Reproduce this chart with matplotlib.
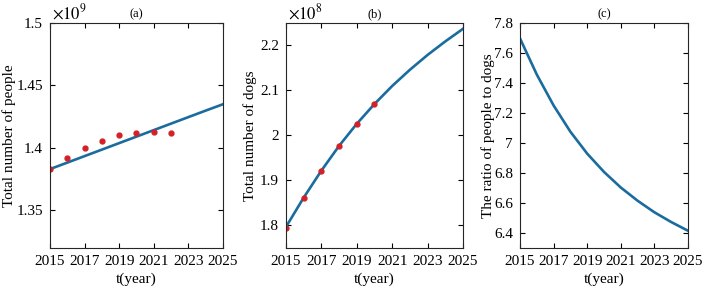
import matplotlib
matplotlib.use('Agg')
import matplotlib.pyplot as plt
from matplotlib.ticker import FuncFormatter

matplotlib.rcParams['font.family'] = ['Liberation Serif', 'DejaVu Serif']
matplotlib.rcParams['mathtext.fontset'] = 'stix'
matplotlib.rcParams['font.size'] = 11

# observed data
obs_years_people = [2015, 2016, 2017, 2018, 2019, 2020, 2021, 2022]
people_obs = [1.3831, 1.3923, 1.4000, 1.4053, 1.4101, 1.4119, 1.4127, 1.4116]  # x 1e9
obs_years_dogs = [2015, 2016, 2017, 2018, 2019, 2020]
dogs_obs = [1.795, 1.861, 1.922, 1.976, 2.025, 2.070]  # x 1e8

# model curves
years = [2015, 2016, 2017, 2018, 2019, 2020, 2021, 2022, 2023, 2024, 2025]
people_fit = [1.3831, 1.3883, 1.3935, 1.3987, 1.4039, 1.4091, 1.4143, 1.4195, 1.4247, 1.4299, 1.4350]
dogs_fit = [1.797, 1.862, 1.922, 1.977, 2.026, 2.070, 2.110, 2.146, 2.179, 2.209, 2.237]
ratio_fit = [7.697, 7.456, 7.250, 7.075, 6.929, 6.807, 6.703, 6.615, 6.538, 6.473, 6.415]

xticks = [2015, 2017, 2019, 2021, 2023, 2025]
line_color = '#1A6C9E'
dot_color = '#D42027'

fig = plt.figure(figsize=(7.05, 2.93), dpi=100)
ax1 = fig.add_axes([0.0709, 0.1536, 0.2454, 0.768])
ax2 = fig.add_axes([0.4057, 0.1536, 0.2510, 0.768])
ax3 = fig.add_axes([0.7376, 0.1536, 0.2383, 0.768])

fmt = FuncFormatter(lambda v, p: '%g' % round(v, 4))

def style(ax, title, ylabel, labelx):
    ax.set_xlim(2015, 2025)
    ax.set_xticks(xticks)
    ax.tick_params(direction='in', top=True, right=True, length=3.5, width=0.8, labelsize=11, pad=5)
    for s in ax.spines.values():
        s.set_linewidth(0.8)
        s.set_color('#262626')
    ax.set_title(title, fontsize=9, pad=4)
    ax.set_xlabel('t(year)', fontsize=11, labelpad=3)
    ax.set_ylabel(ylabel, fontsize=11)
    ax.yaxis.set_label_coords(labelx, 0.5)
    ax.yaxis.set_major_formatter(fmt)

# (a)
ax1.plot(years, people_fit, color=line_color, linewidth=1.9)
ax1.plot(obs_years_people, people_obs, 'o', color=dot_color, markersize=3.5, linestyle='none')
ax1.set_ylim(1.32, 1.5)
ax1.set_yticks([1.35, 1.4, 1.45, 1.5])
style(ax1, '(a)', 'Total number of people', -0.197)
ax1.text(0.01, 1.0, r'$\times10^{9}$', transform=ax1.transAxes, fontsize=12, va='bottom', ha='left')

# (b)
ax2.plot(years, dogs_fit, color=line_color, linewidth=1.9)
ax2.plot(obs_years_dogs, dogs_obs, 'o', color=dot_color, markersize=3.5, linestyle='none')
ax2.set_ylim(1.75, 2.25)
ax2.set_yticks([1.8, 1.9, 2.0, 2.1, 2.2])
style(ax2, '(b)', 'Total number of dogs', -0.164)
ax2.text(0.01, 1.0, r'$\times10^{8}$', transform=ax2.transAxes, fontsize=12, va='bottom', ha='left')

# (c)
ax3.plot(years, ratio_fit, color=line_color, linewidth=1.9)
ax3.set_ylim(6.3, 7.8)
ax3.set_yticks([6.4, 6.6, 6.8, 7.0, 7.2, 7.4, 7.6, 7.8])
style(ax3, '(c)', 'The ratio of people to dogs', -0.149)

fig.savefig('out.png', dpi=100)
